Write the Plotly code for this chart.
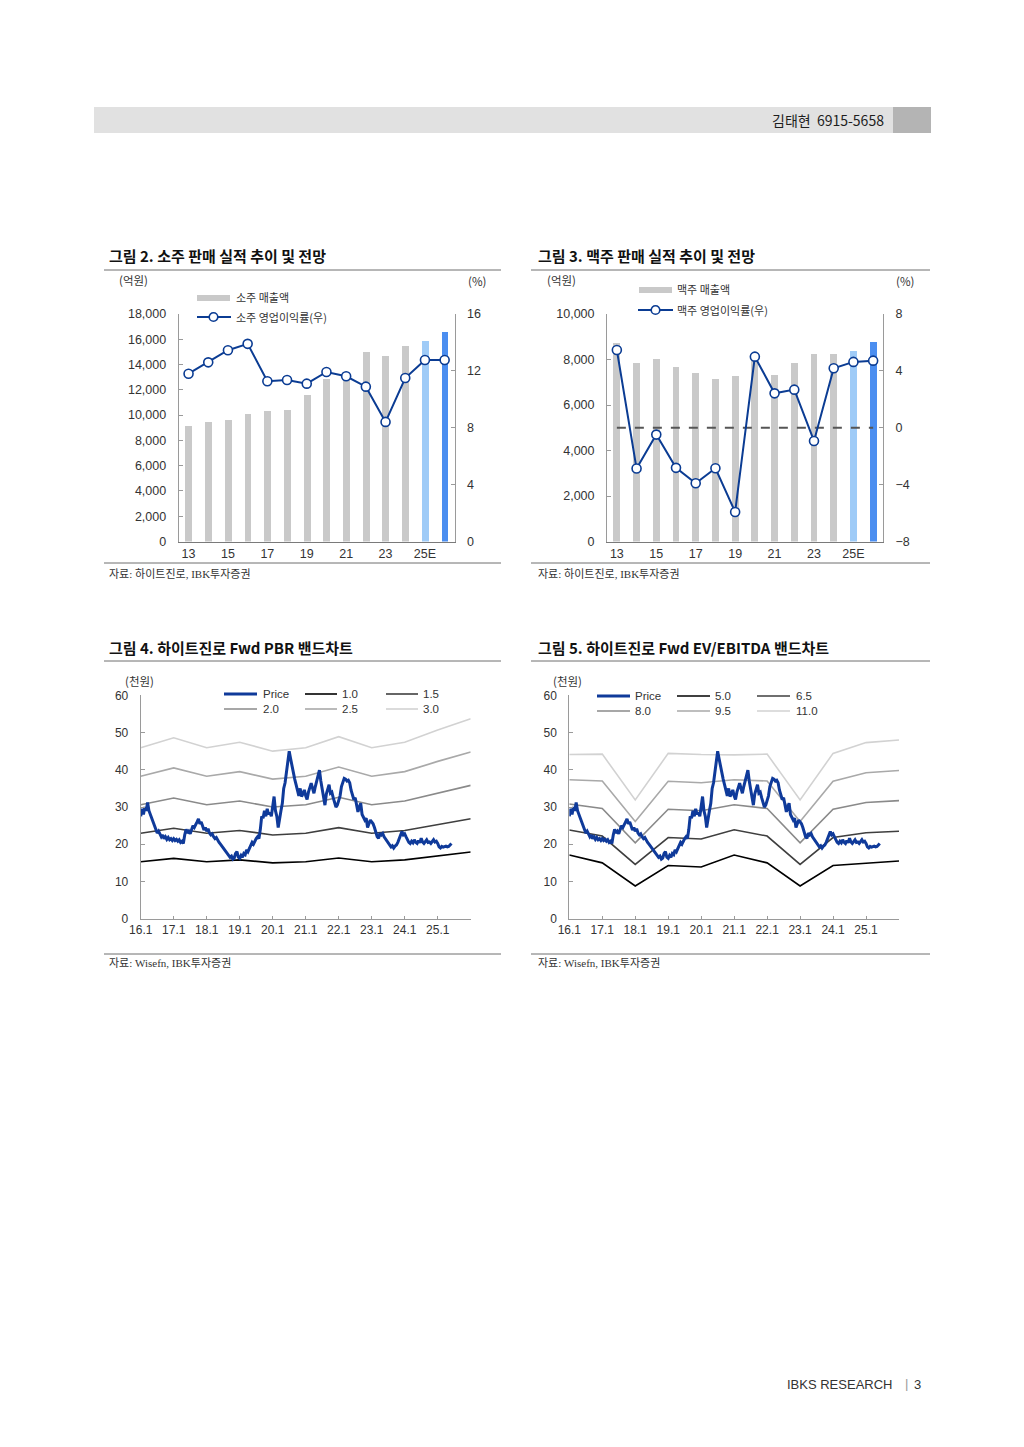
import plotly.graph_objects as go

W, H = 1024, 1447
def fx(p):
    return p / W
def fy(p):
    return 1 - p / H

# ---------------- data ----------------
categories = ['13', '14', '15', '16', '17', '18', '19', '20', '21', '22', '23', '24', '25E', '26E']
cat_tick_labels = ['13', '15', '17', '19', '21', '23', '25E']

soju_sales = [9170, 9490, 9620, 10120, 10360, 10410, 11570, 12860, 12900, 15000, 14680, 15470, 15840, 16600]
soju_opm = [11.8, 12.6, 13.45, 13.9, 11.27, 11.36, 11.1, 11.92, 11.62, 10.89, 8.41, 11.5, 12.77, 12.77]

beer_sales = [8710, 7830, 8020, 7670, 7420, 7140, 7280, 8000, 7320, 7850, 8240, 8240, 8370, 8750]
beer_opm = [5.47, -2.87, -0.48, -2.82, -3.9, -2.85, -5.92, 5.0, 2.42, 2.68, -0.93, 4.18, 4.63, 4.72]

band_years = [2016, 2017, 2018, 2019, 2020, 2021, 2022, 2023, 2024, 2025, 2026]
year_ticks = [2016, 2017, 2018, 2019, 2020, 2021, 2022, 2023, 2024, 2025]
year_tick_labels = ['16.1', '17.1', '18.1', '19.1', '20.1', '21.1', '22.1', '23.1', '24.1', '25.1']

pbr_10 = [15.3, 16.2, 15.3, 15.8, 15.0, 15.3, 16.3, 15.3, 15.8, 16.9, 17.9]
pbr_15 = [22.95, 24.3, 22.95, 23.7, 22.5, 22.95, 24.45, 22.95, 23.7, 25.35, 26.85]
pbr_20 = [30.6, 32.4, 30.6, 31.6, 30.0, 30.6, 32.6, 30.6, 31.6, 33.8, 35.8]
pbr_25 = [38.25, 40.5, 38.25, 39.5, 37.5, 38.25, 40.75, 38.25, 39.5, 42.25, 44.75]
pbr_30 = [45.9, 48.6, 45.9, 47.4, 45.0, 45.9, 48.9, 45.9, 47.4, 50.7, 53.7]

ev_50 = [17.1, 15.0, 8.8, 14.3, 13.9, 17.1, 15.0, 8.8, 14.3, 15.0, 15.5]
ev_65 = [23.8, 22.2, 14.6, 21.8, 21.4, 23.9, 22.2, 14.6, 21.8, 23.1, 23.5]
ev_80 = [30.8, 29.6, 20.4, 29.4, 29.0, 30.6, 29.6, 20.4, 29.4, 31.2, 31.7]
ev_95 = [37.3, 37.0, 26.1, 36.9, 36.5, 37.3, 37.0, 26.1, 36.9, 39.2, 39.8]
ev_110 = [44.1, 44.2, 31.9, 44.4, 44.1, 44.0, 44.2, 31.9, 44.4, 47.3, 48.0]

# semi-monthly share price (thousand won)
price_2016 = [27.5, 29.5, 28.0, 30.0, 29.0, 31.2, 29.0, 28.0, 27.0, 25.5, 25.0, 24.0, 23.0, 23.5, 22.5, 22.0, 22.5, 21.5, 22.0, 21.3, 21.8, 21.2, 21.5, 21.0]
price_2017 = [21.5, 21.0, 21.3, 20.8, 21.2, 20.5, 20.8, 20.2, 22.5, 24.0, 23.0, 23.5, 22.8, 24.0, 25.0, 24.5, 25.5, 26.0, 26.8, 25.5, 26.0, 24.5, 23.8, 24.5]
price_2018 = [23.5, 24.2, 23.0, 22.5, 22.8, 22.0, 21.5, 21.8, 21.0, 20.5, 20.0, 19.5, 19.3, 18.5, 18.0, 17.5, 17.0, 16.5, 16.8, 16.0, 16.3, 17.5, 18.0, 16.5]
price_2019 = [16.2, 17.0, 16.5, 17.5, 17.2, 18.5, 18.0, 19.0, 19.8, 20.5, 20.0, 21.0, 21.5, 22.0, 21.5, 24.0, 27.5, 27.0, 29.0, 27.5, 29.5, 28.0, 28.5, 27.5]
price_2020 = [30.0, 32.8, 29.0, 27.5, 24.5, 27.5, 29.0, 31.0, 35.0, 36.5, 39.0, 42.0, 45.0, 43.0, 41.0, 38.5, 37.5, 36.0, 34.5, 33.0, 35.0, 32.8, 33.5, 34.6]
price_2021 = [33.0, 32.0, 34.0, 35.5, 36.4, 35.0, 33.7, 35.5, 37.0, 38.5, 39.9, 37.0, 34.6, 33.0, 30.5, 33.5, 34.6, 36.0, 33.7, 34.0, 32.5, 31.5, 30.0, 30.5]
price_2022 = [31.5, 33.0, 35.5, 37.0, 37.7, 37.5, 37.0, 37.2, 36.5, 34.5, 33.5, 32.0, 32.5, 30.0, 28.7, 30.0, 31.0, 28.0, 27.0, 26.5, 27.0, 24.5, 25.5, 26.5]
price_2023 = [26.0, 25.5, 24.5, 23.5, 22.0, 21.6, 23.0, 22.5, 22.9, 22.0, 21.5, 21.0, 20.5, 20.0, 19.3, 19.6, 19.0, 19.5, 19.8, 20.5, 21.5, 22.5, 23.4, 22.5]
price_2024 = [22.8, 22.0, 21.2, 20.5, 20.2, 20.8, 20.4, 21.2, 20.5, 20.2, 21.0, 20.4, 21.6, 20.6, 20.2, 20.8, 21.2, 20.5, 20.6, 20.2, 20.8, 21.2, 20.6, 20.8]
price_2025 = [20.2, 19.3, 19.0, 19.4, 19.2, 19.3, 19.5, 19.3, 19.4, 19.8, 20.2]

price_v = (price_2016 + price_2017 + price_2018 + price_2019 + price_2020 + price_2021
           + price_2022 + price_2023 + price_2024 + price_2025)
price_t = [2016 + k / 24 for k in range(len(price_v))]

# ---------------- styles ----------------
NUM_FONT = 'Liberation Sans, Arial, Noto Sans CJK KR'
KR_FONT = 'Noto Sans CJK KR'
SERIF_FONT = 'Liberation Serif, Noto Sans CJK KR'
TXT = '#333333'
BLUE_LINE = '#0b3c93'
PRICE_BLUE = '#0f3a9a'
GRAY_BAR = '#c9c9c9'
band_colors = ['#000000', '#3f3f3f', '#8a8a8a', '#a9a9a9', '#d2d2d2']

bar_colors = [GRAY_BAR] * 12 + ['#9fcbf7', '#4b8ef0']
cat_x = list(range(len(categories)))

fig = go.Figure()

# chart 1: soju
fig.add_trace(go.Bar(x=cat_x, y=soju_sales, marker=dict(color=bar_colors, line=dict(width=0)),
                     width=0.35, xaxis='x', yaxis='y', showlegend=False))
fig.add_trace(go.Scatter(x=cat_x, y=soju_opm, mode='lines+markers', xaxis='x', yaxis='y5',
                         line=dict(color=BLUE_LINE, width=2),
                         marker=dict(size=9, color='white', line=dict(color=BLUE_LINE, width=1.6)),
                         showlegend=False))

# chart 2: beer
fig.add_trace(go.Bar(x=cat_x, y=beer_sales, marker=dict(color=bar_colors, line=dict(width=0)),
                     width=0.35, xaxis='x2', yaxis='y2', showlegend=False))
fig.add_trace(go.Scatter(x=[cat_x[0], cat_x[-1]], y=[0, 0], mode='lines', xaxis='x2', yaxis='y6',
                         line=dict(color='#555555', width=2, dash='dash'), showlegend=False))
fig.add_trace(go.Scatter(x=cat_x, y=beer_opm, mode='lines+markers', xaxis='x2', yaxis='y6',
                         line=dict(color=BLUE_LINE, width=2),
                         marker=dict(size=9, color='white', line=dict(color=BLUE_LINE, width=1.6)),
                         showlegend=False))

# chart 3: PBR band
for vals, col in zip([pbr_10, pbr_15, pbr_20, pbr_25, pbr_30], band_colors):
    fig.add_trace(go.Scatter(x=band_years, y=vals, mode='lines', xaxis='x3', yaxis='y3',
                             line=dict(color=col, width=1.6), showlegend=False))
fig.add_trace(go.Scatter(x=price_t, y=price_v, mode='lines', xaxis='x3', yaxis='y3',
                         line=dict(color=PRICE_BLUE, width=3), showlegend=False))

# chart 4: EV/EBITDA band
for vals, col in zip([ev_50, ev_65, ev_80, ev_95, ev_110], band_colors):
    fig.add_trace(go.Scatter(x=band_years, y=vals, mode='lines', xaxis='x4', yaxis='y4',
                             line=dict(color=col, width=1.6), showlegend=False))
fig.add_trace(go.Scatter(x=price_t, y=price_v, mode='lines', xaxis='x4', yaxis='y4',
                         line=dict(color=PRICE_BLUE, width=3), showlegend=False))

# ---------------- axes ----------------
def yax(**kw):
    d = dict(showgrid=False, zeroline=False, showline=True, linecolor='#9a9a9a', linewidth=1,
             ticks='inside', ticklen=4, tickcolor='#9a9a9a', automargin=False,
             tickfont=dict(family=NUM_FONT, size=12.5, color=TXT), ticklabelstandoff=9)
    d.update(kw)
    return d

def xax(**kw):
    d = dict(showgrid=False, zeroline=False, showline=True, linecolor='#7a7a7a', linewidth=1,
             ticks='', automargin=False, tickfont=dict(family=NUM_FONT, size=12.5, color=TXT))
    d.update(kw)
    return d

c1_x = [fx(178.7), fx(454.5)]
c2_x = [fx(607.0), fx(883.0)]
c12_y = [fy(541.5), fy(314.0)]
c3_x = [fx(140.7), fx(470.7)]
c4_x = [fx(569.3), fx(899.0)]
c34_y = [fy(918.7), fy(695.3)]

fig.update_layout(
    xaxis=xax(domain=c1_x, anchor='y', range=[-0.5, 13.5], tickvals=[0, 2, 4, 6, 8, 10, 12], ticktext=cat_tick_labels),
    yaxis=yax(domain=c12_y, anchor='x', range=[0, 18000], tickvals=list(range(0, 18001, 2000)), tickformat=','),
    yaxis5=yax(overlaying='y', anchor='x', side='right', range=[0, 16], tickvals=[0, 4, 8, 12, 16]),
    xaxis2=xax(domain=c2_x, anchor='y2', range=[-0.5, 13.5], tickvals=[0, 2, 4, 6, 8, 10, 12], ticktext=cat_tick_labels),
    yaxis2=yax(domain=c12_y, anchor='x2', range=[0, 10000], tickvals=list(range(0, 10001, 2000)), tickformat=','),
    yaxis6=yax(overlaying='y2', anchor='x2', side='right', range=[-8, 8], tickvals=[-8, -4, 0, 4, 8]),
    xaxis3=xax(domain=c3_x, anchor='y3', range=[2016, 2026], tickvals=year_ticks, ticktext=year_tick_labels,
               ticks='inside', ticklen=3, tickcolor='#9a9a9a', linecolor='#9a9a9a', tickfont=dict(family=NUM_FONT, size=12, color=TXT)),
    yaxis3=yax(domain=c34_y, anchor='x3', range=[0, 60], tickvals=[0, 10, 20, 30, 40, 50, 60],
               tickfont=dict(family=NUM_FONT, size=12, color=TXT)),
    xaxis4=xax(domain=c4_x, anchor='y4', range=[2016, 2026], tickvals=year_ticks, ticktext=year_tick_labels,
               ticks='inside', ticklen=3, tickcolor='#9a9a9a', linecolor='#9a9a9a', tickfont=dict(family=NUM_FONT, size=12, color=TXT)),
    yaxis4=yax(domain=c34_y, anchor='x4', range=[0, 60], tickvals=[0, 10, 20, 30, 40, 50, 60],
               tickfont=dict(family=NUM_FONT, size=12, color=TXT)),
    width=W, height=H, margin=dict(l=0, r=0, t=0, b=0, pad=0, autoexpand=False),
    paper_bgcolor='white', plot_bgcolor='white', showlegend=False, bargap=0,
)

# ---------------- decorations ----------------
shapes = []
annotations = []

def ann(text, x, y, size=11, color=TXT, family=KR_FONT, xanchor='left', yanchor='middle', bold=False):
    annotations.append(dict(text=('<b>%s</b>' % text) if bold else text, x=fx(x), y=fy(y),
                            xref='paper', yref='paper', showarrow=False, xanchor=xanchor, yanchor=yanchor,
                            font=dict(size=size, color=color, family=family)))

def hline(x0, x1, y, color='#6e6e6e', width=1, dash=None):
    ln = dict(color=color, width=width)
    if dash:
        ln['dash'] = dash
    shapes.append(dict(type='line', xref='paper', yref='paper', x0=fx(x0), x1=fx(x1), y0=fy(y), y1=fy(y), line=ln))

def rect(x0, x1, y0, y1, color):
    shapes.append(dict(type='rect', xref='paper', yref='paper', x0=fx(x0), x1=fx(x1), y0=fy(y1), y1=fy(y0),
                       fillcolor=color, line=dict(width=0), layer='below'))

def circ(cx, cy, r, color):
    shapes.append(dict(type='circle', xref='paper', yref='paper', x0=fx(cx - r), x1=fx(cx + r),
                       y0=fy(cy + r), y1=fy(cy - r), fillcolor='white', line=dict(color=color, width=1.6)))

# header
rect(94, 893, 107, 133, '#e1e1e1')
rect(893, 931, 107, 133, '#b4b4b4')
ann('김태현  6915-5658', 886, 120, size=14, color='#1e1e1e', xanchor='right')

# footer
ann('IBKS RESEARCH', 894, 1384, size=13, color='#333333', family='Liberation Sans, Arial', xanchor='right')
ann('|', 906, 1383, size=13, color='#9a9a9a', family='Liberation Sans, Arial', xanchor='center')
ann('3', 917, 1384, size=13, color='#333333', family='Liberation Sans, Arial', xanchor='center')

# chart frames: titles, rules, sources
for (x0, x1, tx, ty, rule_top, rule_bot, src_y, title, src) in [
    (104, 501, 107, 256, 270, 563, 573, '그림 2. 소주 판매 실적 추이 및 전망', '자료: 하이트진로, IBK투자증권'),
    (531, 930, 536, 256, 270, 563, 573, '그림 3. 맥주 판매 실적 추이 및 전망', '자료: 하이트진로, IBK투자증권'),
    (104, 501, 107, 647, 661, 954, 963, '그림 4. 하이트진로 Fwd PBR 밴드차트', '자료: Wisefn, IBK투자증권'),
    (531, 930, 536, 647, 661, 954, 963, '그림 5. 하이트진로 Fwd EV/EBITDA 밴드차트', '자료: Wisefn, IBK투자증권'),
]:
    ann(title, tx, ty, size=15, color='#111111', bold=True)
    hline(x0, x1, rule_top, color='#6e6e6e', width=1)
    hline(x0, x1, rule_bot, color='#6e6e6e', width=1)
    ann(src, tx, src_y, size=11, color='#333333', family=SERIF_FONT)

# unit labels
ann('(억원)', 133, 280, size=11.5, xanchor='center')
ann('(%)', 477, 281, size=11.5, xanchor='center')
ann('(억원)', 561, 280, size=11.5, xanchor='center')
ann('(%)', 905, 281, size=11.5, xanchor='center')
ann('(천원)', 139, 681, size=11.5, xanchor='center')
ann('(천원)', 567, 681, size=11.5, xanchor='center')

# legend chart 1
rect(197, 230, 295, 301, GRAY_BAR)
ann('소주 매출액', 234, 297, size=11)
hline(197, 231, 317, color=BLUE_LINE, width=2)
circ(213.5, 317, 4.3, BLUE_LINE)
ann('소주 영업이익률(우)', 234, 317, size=11)

# legend chart 2
rect(639, 672, 287, 293, GRAY_BAR)
ann('맥주 매출액', 675, 289, size=11)
hline(638, 673, 310, color=BLUE_LINE, width=2)
circ(655.5, 310, 4.3, BLUE_LINE)
ann('맥주 영업이익률(우)', 675, 310, size=11)

# legend chart 3
leg3 = [('Price', 224, 257, 261, 694, PRICE_BLUE, 3), ('1.0', 305, 337, 340, 694, band_colors[0], 1.6),
        ('1.5', 386, 418, 421, 694, band_colors[1], 1.6), ('2.0', 224, 257, 261, 709, band_colors[2], 1.6),
        ('2.5', 305, 337, 340, 709, band_colors[3], 1.6), ('3.0', 386, 418, 421, 709, band_colors[4], 1.6)]
for (t, a, b, tx, yy, col, wd) in leg3:
    hline(a, b, yy, color=col, width=wd)
    ann(t, tx, yy, size=11.5, family=NUM_FONT)

# legend chart 4
leg4 = [('Price', 597, 630, 633, 696, PRICE_BLUE, 3), ('5.0', 677, 710, 713, 696, band_colors[0], 1.6),
        ('6.5', 757, 790, 794, 696, band_colors[1], 1.6), ('8.0', 597, 630, 633, 711, band_colors[2], 1.6),
        ('9.5', 677, 710, 713, 711, band_colors[3], 1.6), ('11.0', 757, 790, 794, 711, band_colors[4], 1.6)]
for (t, a, b, tx, yy, col, wd) in leg4:
    hline(a, b, yy, color=col, width=wd)
    ann(t, tx, yy, size=11.5, family=NUM_FONT)

fig.update_layout(shapes=shapes, annotations=annotations)
fig.write_html('out.html', config={'displayModeBar': False},
               post_script="document.body.style.margin='0px';document.body.style.padding='0px';")
